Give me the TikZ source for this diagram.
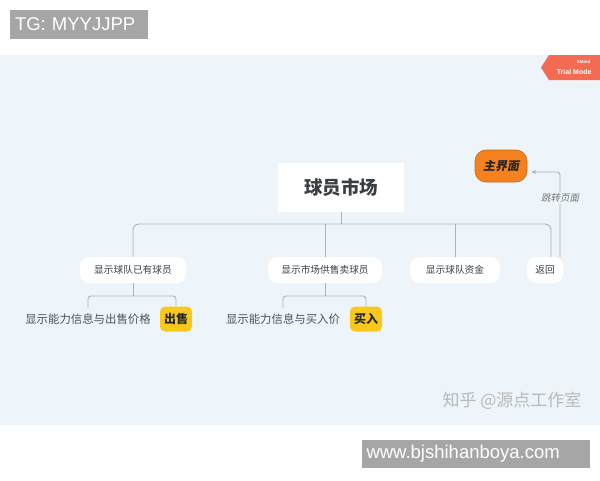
\documentclass[tikz,border=0pt]{standalone}
\usepackage{fontspec}
\setmainfont{Liberation Sans}
\newfontfamily\cjk{Noto Sans CJK SC}
\newfontfamily\cjkslant[FakeSlant=0.2]{Noto Sans CJK SC}
\usetikzlibrary{positioning,arrows.meta}

\definecolor{panelbg}{HTML}{EEF5FA}
\definecolor{linkgray}{HTML}{A8B3BB}
\definecolor{textdark}{HTML}{3A3F45}
\definecolor{homeorange}{HTML}{F5821F}
\definecolor{buyyellow}{HTML}{F8C81C}
\definecolor{badgered}{HTML}{F26B52}
\definecolor{stampgray}{HTML}{A6A6A6}

\tikzset{
  link/.style={draw=linkgray, line width=0.9pt},
  topic/.style={fill=white, rounded corners=9pt, inner sep=0pt, minimum height=26pt, font=\cjk\fontsize{9.7}{12}\selectfont, text=textdark},
  leaf/.style={inner sep=0pt, minimum height=22pt, font=\cjk\fontsize{11.4}{14}\selectfont, text=textdark!90},
  tagbox/.style={fill=buyyellow, rounded corners=5pt, inner sep=0pt, minimum width=32pt, minimum height=25pt, font=\cjk\bfseries\fontsize{12}{14}\selectfont, text=black!85},
  stamp/.style={fill=stampgray, text=white, inner ysep=0pt, inner xsep=5pt, align=left, font=\fontsize{18.5}{20}\selectfont}
}

\begin{document}
\begin{tikzpicture}[x=1pt, y=-1pt]
    \useasboundingbox (0,0) rectangle (600,480);
    \fill[white] (0,0) rectangle (600,480);
    \fill[panelbg] (0,55) rectangle (600,425);

    % watermarks
    \node[stamp, minimum height=29pt, text width=128pt] (tg) at (79,24.5) {TG: MYYJJPP};
    \node[stamp, minimum height=28pt, text width=218pt] (site) at (475.5,454) {www.bjshihanboya.com};
    \node[font=\cjk\fontsize{17}{19}\selectfont, text=black!28] (zhihu) at (512,401) {知乎 @源点工作室};

    % trial badge
    \fill[badgered] (549,55) -- (600,55) -- (600,80) -- (549,80) -- (541,67.5) -- cycle;
    \node[font=\bfseries\fontsize{4.5}{5}\selectfont, text=white, anchor=east] (xmind) at (594,62) {XMind};
    \node[font=\bfseries\fontsize{7}{8}\selectfont, text=white, anchor=east] (trial) at (595,72) {Trial Mode};

    % root and main page
    \node[fill=white, minimum width=126pt, minimum height=49pt, inner sep=0pt, font=\cjk\bfseries\fontsize{18.5}{20}\selectfont, text=textdark] (root) at (341,187.5) {球员市场};
    \node[fill=homeorange, draw=homeorange!80!black, line width=0.6pt, rounded corners=11pt, minimum width=52pt, minimum height=32pt, inner sep=0pt, font=\cjkslant\bfseries\fontsize{12}{14}\selectfont, text=black!85] (home) at (501,166) {主界面};

    % topics
    \node[topic, minimum width=106pt] (owned) at (133,270) {显示球队已有球员};
    \node[topic, minimum width=114pt] (market) at (325,270) {显示市场供售卖球员};
    \node[topic, minimum width=90pt] (funds) at (455,270) {显示球队资金};
    \node[topic, minimum width=36pt] (back) at (545,270) {返回};

    % subtopics
    \node[leaf] (sellinfo) at (88,319) {显示能力信息与出售价格};
    \node[tagbox] (sell) at (176,319) {出售};
    \node[leaf] (buyinfo) at (283,319) {显示能力信息与买入价};
    \node[tagbox] (buy) at (366,319) {买入};

    % connectors
    \coordinate (bus) at (0,224);
    \coordinate (subbus) at (0,296);
    \coordinate (backup) at (560,257);
    \draw[link] (root.south) -- (root.south |- bus);
    \draw[link, rounded corners=6pt] ([xshift=6pt]back.north) |- (owned.north |- bus) -- (owned.north);
    \draw[link] (market.north) -- (market.north |- bus);
    \draw[link] (funds.north) -- (funds.north |- bus);

    \draw[link] (owned.south) -- (owned.south |- subbus);
    \draw[link, rounded corners=3pt] (sellinfo.north) |- (sell.north |- subbus) -- (sell.north);
    \draw[link] (market.south) -- (market.south |- subbus);
    \draw[link, rounded corners=3pt] (buyinfo.north) |- (buy.north |- subbus) -- (buy.north);

    \draw[link, -{Stealth[length=5pt, width=4pt]}, rounded corners=3pt] (backup) |- ([xshift=4pt, yshift=-6pt]home.east)
        node[pos=0.345, fill=panelbg, inner sep=1pt, font=\cjkslant\fontsize{9.5}{10}\selectfont, text=black!55] (jump) {跳转页面};
\end{tikzpicture}
\end{document}
